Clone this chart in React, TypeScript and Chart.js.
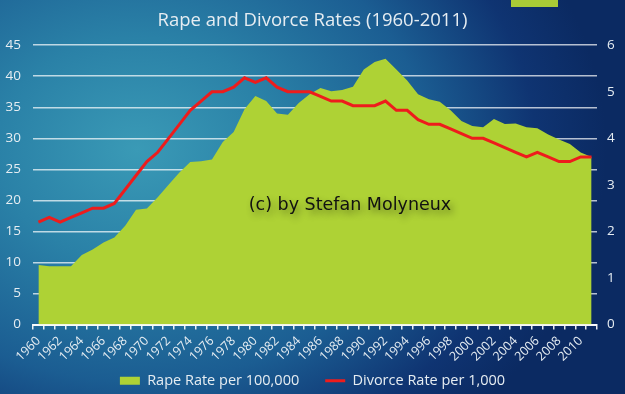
import React, { useEffect, useRef } from "react";
import { Chart, registerables } from "chart.js";

Chart.register(...registerables);

const years: string[] = [
  "1960","1961","1962","1963","1964","1965","1966","1967","1968","1969",
  "1970","1971","1972","1973","1974","1975","1976","1977","1978","1979",
  "1980","1981","1982","1983","1984","1985","1986","1987","1988","1989",
  "1990","1991","1992","1993","1994","1995","1996","1997","1998","1999",
  "2000","2001","2002","2003","2004","2005","2006","2007","2008","2009",
  "2010","2011",
];

const rapeRate: number[] = [
  9.6, 9.4, 9.4, 9.4, 11.2, 12.1, 13.2, 14.0, 15.9, 18.5,
  18.7, 20.5, 22.5, 24.5, 26.2, 26.3, 26.6, 29.4, 31.0, 34.7,
  36.8, 36.0, 34.0, 33.8, 35.7, 37.1, 38.1, 37.6, 37.8, 38.3,
  41.1, 42.3, 42.8, 41.1, 39.3, 37.1, 36.3, 35.9, 34.5, 32.8,
  32.0, 31.8, 33.1, 32.3, 32.4, 31.8, 31.6, 30.6, 29.8, 29.1,
  27.7, 27.0,
];

const divorceRate: number[] = [
  2.2, 2.3, 2.2, 2.3, 2.4, 2.5, 2.5, 2.6, 2.9, 3.2,
  3.5, 3.7, 4.0, 4.3, 4.6, 4.8, 5.0, 5.0, 5.1, 5.3,
  5.2, 5.3, 5.1, 5.0, 5.0, 5.0, 4.9, 4.8, 4.8, 4.7,
  4.7, 4.7, 4.8, 4.6, 4.6, 4.4, 4.3, 4.3, 4.2, 4.1,
  4.0, 4.0, 3.9, 3.8, 3.7, 3.6, 3.7, 3.6, 3.5, 3.5,
  3.6, 3.6,
];

const titleText = "Rape and Divorce Rates (1960-2011)";
const rapeLabel = "Rape Rate per 100,000";
const divorceLabel = "Divorce Rate per 1,000";
const watermark = "(c) by Stefan Molyneux";

const TEXT = "#e6edf2";
const FONT = "'Open Sans', 'Lato', sans-serif";

const watermarkPlugin = {
  id: "watermark",
  afterLayout(chart: any) {
    // let the rotated year labels extend below the axis box (no clipping)
    const xs = chart.scales.x;
    if (xs) xs.bottom = xs.top + 48;
  },
  afterDatasetsDraw(chart: any) {
    const { ctx, chartArea } = chart;
    const x = chartArea.left + (chartArea.right - chartArea.left) * 0.562;
    const y = chartArea.top + (chartArea.bottom - chartArea.top) * 0.572;
    ctx.save();
    ctx.font = "17.5px 'DejaVu Sans', sans-serif";
    ctx.textAlign = "center";
    ctx.textBaseline = "middle";
    ctx.shadowColor = "rgba(0,0,0,0.45)";
    ctx.shadowBlur = 7;
    ctx.shadowOffsetX = 3;
    ctx.shadowOffsetY = 4;
    ctx.fillStyle = "#111111";
    ctx.fillText(watermark, x, y);
    ctx.restore();
  },
};

export default function App() {
  const canvasRef = useRef<HTMLCanvasElement | null>(null);

  useEffect(() => {
    if (!canvasRef.current) return;
    const chart = new Chart(canvasRef.current, {
      type: "line",
      data: {
        labels: years,
        datasets: [
          {
            label: rapeLabel,
            data: rapeRate,
            yAxisID: "y",
            fill: "origin",
            backgroundColor: "#aed235",
            borderColor: "#aed235",
            borderWidth: 0,
            pointRadius: 0,
            pointStyle: "rect",
            tension: 0,
            order: 2,
          },
          {
            label: divorceLabel,
            data: divorceRate,
            yAxisID: "y1",
            fill: false,
            borderColor: "#ee1c1c",
            backgroundColor: "#ee1c1c",
            borderWidth: 3,
            pointRadius: 0,
            pointStyle: "line",
            tension: 0,
            order: 1,
          },
        ],
      },
      options: {
        animation: false,
        responsive: true,
        maintainAspectRatio: false,
        layout: { padding: { top: 0, bottom: -4, left: 0, right: 0 } },
        plugins: {
          title: {
            display: true,
            text: titleText,
            color: TEXT,
            font: { family: FONT, size: 18.5, weight: "normal" },
            padding: { top: 10, bottom: 13 },
          },
          legend: {
            position: "bottom",
            labels: {
              color: TEXT,
              font: { family: FONT, size: 14.5 },
              usePointStyle: true,
              pointStyleWidth: 20,
              boxHeight: 8,
              padding: 26,
              sort: (a: any, b: any) => a.datasetIndex - b.datasetIndex,
            },
          },
          tooltip: { enabled: false },
        },
        scales: {
          x: {
            type: "category",
            offset: true,
            grid: {
              display: true,
              offset: true,
              drawOnChartArea: false,
              drawTicks: true,
              tickLength: 5,
              color: "rgba(255,255,255,0.9)",
              lineWidth: 1.5,
            },
            border: { display: true, color: "rgba(255,255,255,0.95)", width: 2 },
            ticks: {
              autoSkip: false,
              maxRotation: 45,
              minRotation: 45,
              color: TEXT,
              padding: 4,
              font: { family: FONT, size: 12.5 },
              callback: (_v: any, i: number) => (i % 2 === 0 ? years[i] : ""),
            },
            afterFit: (s: any) => {
              s.height = 23;
            },
          },
          y: {
            position: "left",
            min: 0,
            max: 45,
            ticks: {
              stepSize: 5,
              color: TEXT,
              font: { family: FONT, size: 13.5 },
              padding: 12,
            },
            grid: {
              color: "rgba(255,255,255,0.7)",
              lineWidth: 1.5,
              drawTicks: false,
            },
            border: { display: false },
            afterFit: (s: any) => {
              s.width = 33;
            },
          },
          y1: {
            position: "right",
            min: 0,
            max: 6,
            ticks: {
              stepSize: 1,
              color: TEXT,
              font: { family: FONT, size: 13.5 },
              padding: 10,
            },
            grid: { display: false, drawTicks: false },
            border: { display: false },
            afterFit: (s: any) => {
              s.width = 28;
            },
          },
        },
      },
      plugins: [watermarkPlugin],
    });
    return () => chart.destroy();
  }, []);

  return (
    <div
      style={{
        position: "fixed",
        left: 0,
        top: 0,
        width: 625,
        height: 394,
        background:
          "radial-gradient(ellipse 75% 95% at 22% 38%, #3a9ab6 0%, #2a81a7 30%, #1b5d92 62%, #0f3472 85%, #0b2a62 100%)",
        overflow: "hidden",
      }}
    >
      <div
        style={{
          position: "absolute",
          left: 511,
          top: 0,
          width: 47,
          height: 7,
          background: "#a9cc36",
        }}
      />
      <canvas ref={canvasRef} />
    </div>
  );
}
